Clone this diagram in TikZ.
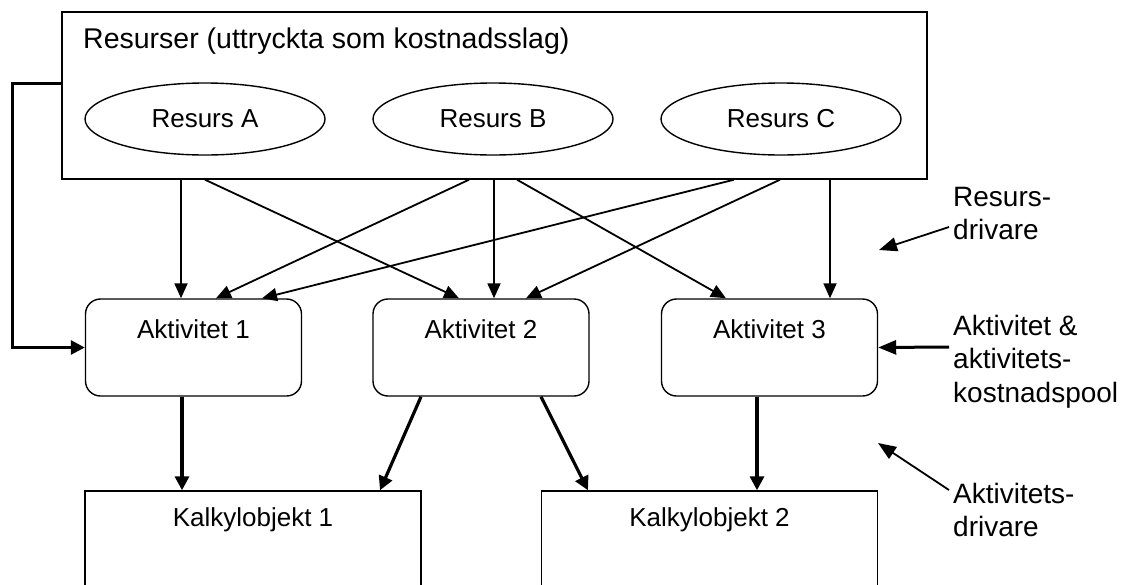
\documentclass[tikz,border=0pt]{standalone}
\usepackage{fontspec}
\setmainfont{Liberation Sans}
\usetikzlibrary{arrows.meta,shapes.geometric,calc}
\begin{document}
\begin{tikzpicture}[x=1pt,y=-1pt,
  box/.style={draw,line width=1.4pt,inner sep=0pt},
  ell/.style={draw,ellipse,line width=1.4pt,inner sep=0pt,minimum width=240pt,minimum height=72pt,font=\fontsize{26}{30}\selectfont},
  act/.style={draw,line width=1.4pt,rounded corners=15pt,minimum width=216pt,minimum height=97pt,inner sep=0pt},
  obj/.style={draw,line width=1.4pt,minimum width=336pt,minimum height=140pt,inner sep=0pt},
  txt/.style={inner sep=0pt,font=\fontsize{26}{30}\selectfont},
  lbl/.style={inner sep=0pt,align=left,font=\fontsize{28}{33.5}\selectfont},
  thinarr/.style={line width=1.8pt,-{Triangle[length=15pt,width=13pt]}},
  thickarr/.style={line width=3.2pt,-{Triangle[length=14pt,width=14pt]}},
  notearr/.style={line width=1.8pt,-{Triangle[length=18pt,width=14pt]}},
  notearrb/.style={line width=3pt,-{Triangle[length=18pt,width=14pt]}}
]
\useasboundingbox (0,0) rectangle (1125,584);

% resources
\node[box,minimum width=865pt,minimum height=167pt] (res) at (494.5,95.5) {};
\node[inner sep=0pt,anchor=base west,font=\fontsize{28.5}{33}\selectfont] (title) at (83,48) {Resurser (uttryckta som kostnadsslag)};
\node[ell] (a) at (205,119) {Resurs A};
\node[ell] (b) at (493,119) {Resurs B};
\node[ell] (c) at (781,119) {Resurs C};

% activities
\node[act] (akt1) at (193.5,347.5) {};
\node[act] (akt2) at (481,347.5) {};
\node[act] (akt3) at (769.5,347.5) {};
\node[txt,anchor=base] (t1) at ($(akt1.north)+(0,40)$) {Aktivitet 1};
\node[txt,anchor=base] (t2) at ($(akt2.north)+(0,40)$) {Aktivitet 2};
\node[txt,anchor=base] (t3) at ($(akt3.north)+(0,40)$) {Aktivitet 3};

% cost objects
\node[obj] (k1) at (253,561) {};
\node[obj] (k2) at (709.5,561) {};
\node[txt,anchor=base] (tk1) at ($(k1.north)+(0,36)$) {Kalkylobjekt 1};
\node[txt,anchor=base] (tk2) at ($(k2.north)+(0,36)$) {Kalkylobjekt 2};

% resource drivers
\draw[thinarr] ($(a.center |- res.south)+(-24,0)$) -- ($(akt1.north)+(-12.5,0)$);
\draw[thinarr] ($(a.center |- res.south)+(0,0)$) -- ($(akt2.north)+(-22,0)$);
\draw[thinarr] ($(b.center |- res.south)+(-24,0)$) -- ($(akt1.north)+(22.5,0)$);
\draw[thinarr] ($(b.center |- res.south)+(1,0)$) -- ($(akt2.north)+(13,0)$);
\draw[thinarr] ($(b.center |- res.south)+(24,0)$) -- ($(akt3.north)+(-43.5,0)$);
\draw[thinarr] ($(c.center |- res.south)+(-47,0)$) -- ($(akt1.north)+(68.5,0)$);
\draw[thinarr] ($(c.center |- res.south)+(-1,0)$) -- ($(akt2.north)+(45,0)$);
\draw[thinarr] ($(c.center |- res.south)+(49,0)$) -- ($(akt3.north)+(60.5,0)$);

% feedback bracket
\draw[thickarr,line width=3pt] ($(res.north west)+(0,72)$) -- ++(-49,0) |- (akt1.west);

% activity drivers
\draw[thickarr] ($(akt1.south)+(-11.5,0)$) -- ($(k1.north)+(-71,0)$);
\draw[thickarr] ($(akt2.south)+(-60,0)$) -- ($(k1.north)+(127,0)$);
\draw[thickarr] ($(akt2.south)+(60,0)$) -- ($(k2.north)+(-121.5,0)$);
\draw[thickarr] ($(akt3.south)+(-12.5,0)$) -- ($(k2.north)+(47.5,0)$);

% right-hand labels
\node[lbl,anchor=north west] (rd) at (953,187) {Resurs-\\drivare};
\node[lbl,anchor=north west] (ak) at (953,315) {Aktivitet \&\\aktivitets-\\kostnadspool};
\node[lbl,anchor=north west] (ad) at (953,483) {Aktivitets-\\drivare};
\coordinate (rdtip) at (879,250);
\coordinate (adtip) at (878,443);
\draw[notearr] ($(rd.north west)+(-4,40)$) -- (rdtip);
\draw[notearrb] ($(ak.north west)+(-4,32)$) -- (akt3.east);
\draw[notearr] ($(ad.north west)+(-4,7)$) -- (adtip);
\end{tikzpicture}
\end{document}
